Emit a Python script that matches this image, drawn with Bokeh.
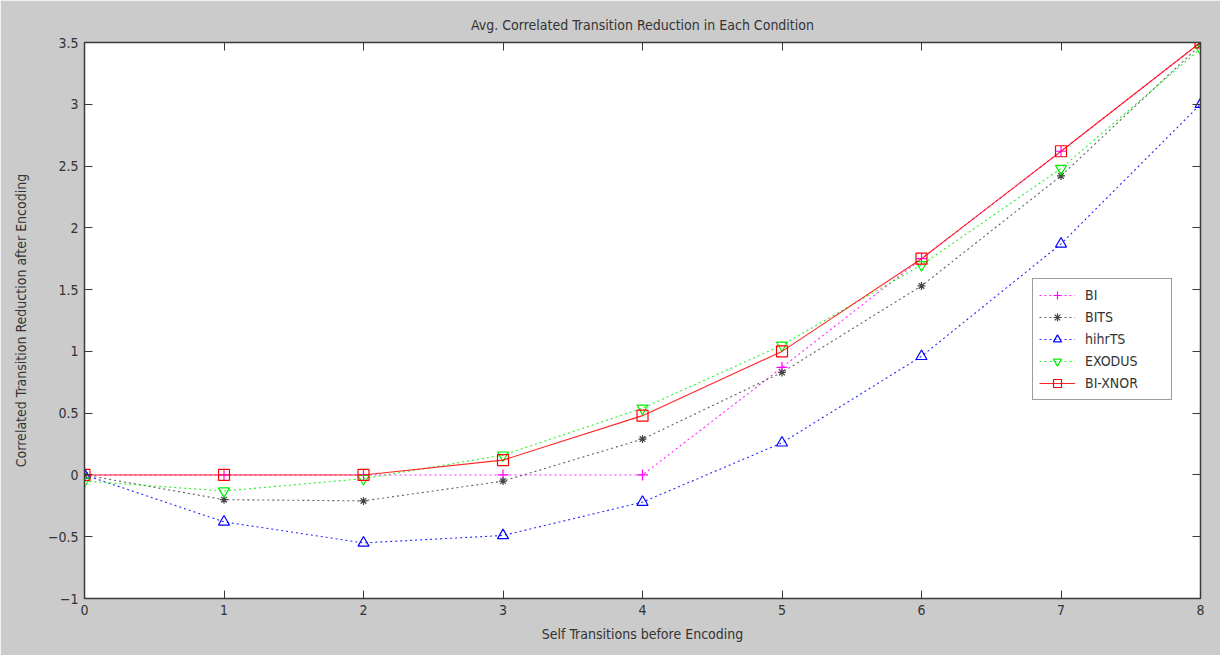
from bokeh.plotting import figure
from bokeh.models import Range1d, LinearAxis, FixedTicker, Legend, LegendItem, CustomJSTickFormatter
from bokeh.embed import file_html
from bokeh.resources import INLINE

x_vals = [0, 1, 2, 3, 4, 5, 6, 7, 8]
bi = [0, 0, 0, 0, 0, 0.87, 1.75, 2.62, 3.5]
bits = [0, -0.2, -0.21, -0.05, 0.29, 0.83, 1.53, 2.42, 3.48]
hihrts = [0, -0.38, -0.55, -0.49, -0.22, 0.26, 0.96, 1.87, 3.0]
exodus = [-0.05, -0.13, -0.03, 0.16, 0.54, 1.05, 1.70, 2.48, 3.45]
bixnor = [0, 0, 0, 0.12, 0.48, 1.0, 1.75, 2.62, 3.5]

x_ticks = [0, 1, 2, 3, 4, 5, 6, 7, 8]
y_ticks = [-1, -0.5, 0, 0.5, 1, 1.5, 2, 2.5, 3, 3.5]

FONT = "'DejaVu Sans Condensed', 'Liberation Sans', sans-serif"
TXT = "#333333"
BG = "#cbcbcb"

p = figure(width=1220, height=655, output_backend="svg", toolbar_location=None,
           x_range=Range1d(0, 8), y_range=Range1d(-1, 3.5),
           min_border_left=84, min_border_right=20, min_border_top=42, min_border_bottom=57,
           title="Avg. Correlated Transition Reduction in Each Condition")
p.border_fill_color = BG
p.background_fill_color = "white"
p.outline_line_color = "#3a3a3a"
p.outline_line_width = 1.5
p.grid.visible = False

p.title.align = "center"
p.title.text_font = FONT
p.title.text_font_size = "14px"
p.title.text_font_style = "normal"
p.title.text_color = TXT
p.title.standoff = 20

for ax in (p.xaxis[0], p.yaxis[0]):
    ax.major_tick_in = 8
    ax.major_tick_out = 0
    ax.minor_tick_in = 0
    ax.minor_tick_out = 0
    ax.axis_line_color = "#3a3a3a"
    ax.major_tick_line_color = "#3a3a3a"
    ax.major_label_text_font = FONT
    ax.major_label_text_font_size = "14px"
    ax.major_label_text_color = TXT
    ax.axis_label_text_font = FONT
    ax.axis_label_text_font_size = "14px"
    ax.axis_label_text_font_style = "normal"
    ax.axis_label_text_color = TXT

p.xaxis[0].ticker = FixedTicker(ticks=x_ticks)
p.yaxis[0].ticker = FixedTicker(ticks=y_ticks)
p.xaxis[0].axis_label = "Self Transitions before Encoding"
p.yaxis[0].axis_label = "Correlated Transition Reduction after Encoding"
p.xaxis[0].major_label_standoff = 6
p.yaxis[0].major_label_standoff = 6
p.xaxis[0].axis_label_standoff = 8
p.yaxis[0].axis_label_standoff = 16

blank = CustomJSTickFormatter(code="return ''")
top = LinearAxis(ticker=FixedTicker(ticks=x_ticks), formatter=blank,
                 major_tick_in=8, major_tick_out=0, minor_tick_in=0, minor_tick_out=0,
                 axis_line_color="#3a3a3a", major_tick_line_color="#3a3a3a",
                 major_label_text_font_size="1px", major_label_standoff=0)
right = LinearAxis(ticker=FixedTicker(ticks=y_ticks), formatter=blank,
                   major_tick_in=8, major_tick_out=0, minor_tick_in=0, minor_tick_out=0,
                   axis_line_color="#3a3a3a", major_tick_line_color="#3a3a3a",
                   major_label_text_font_size="1px", major_label_standoff=0)
p.add_layout(top, "above")
p.add_layout(right, "right")

series = [
    ("BI", bi, "#ff00ff", "2 3", "cross"),
    ("BITS", bits, "#444444", "2 3", "asterisk"),
    ("hihrTS", hihrts, "#0000ff", "2 3", "triangle"),
    ("EXODUS", exodus, "#00ee00", "2 3", "inverted_triangle"),
    ("BI-XNOR", bixnor, "#ff0000", "solid", "square"),
]

items = []
for name, ys, color, dash, marker in series:
    ln = p.line(x_vals, ys, line_color=color, line_dash=dash, line_width=1.1, line_alpha=0.85)
    sz = 8 if marker == "asterisk" else 11
    sc = p.scatter(x_vals, ys, marker=marker, size=sz, line_color=color,
                   fill_color=None, line_width=1.2)
    items.append(LegendItem(label=name, renderers=[ln, sc]))

legend = Legend(items=items, location=(948, 198))
legend.label_text_font = FONT
legend.label_text_font_size = "14px"
legend.label_text_color = TXT
legend.border_line_color = "#3a3a3a"
legend.border_line_width = 1.5
legend.background_fill_color = "white"
legend.background_fill_alpha = 1
legend.glyph_width = 36
legend.glyph_height = 20
legend.label_height = 20
legend.label_width = 80
legend.spacing = 2
legend.padding = 6
legend.margin = 0
legend.label_standoff = 10
p.add_layout(legend, "center")

open("out.html", "w").write(file_html(p, INLINE))
